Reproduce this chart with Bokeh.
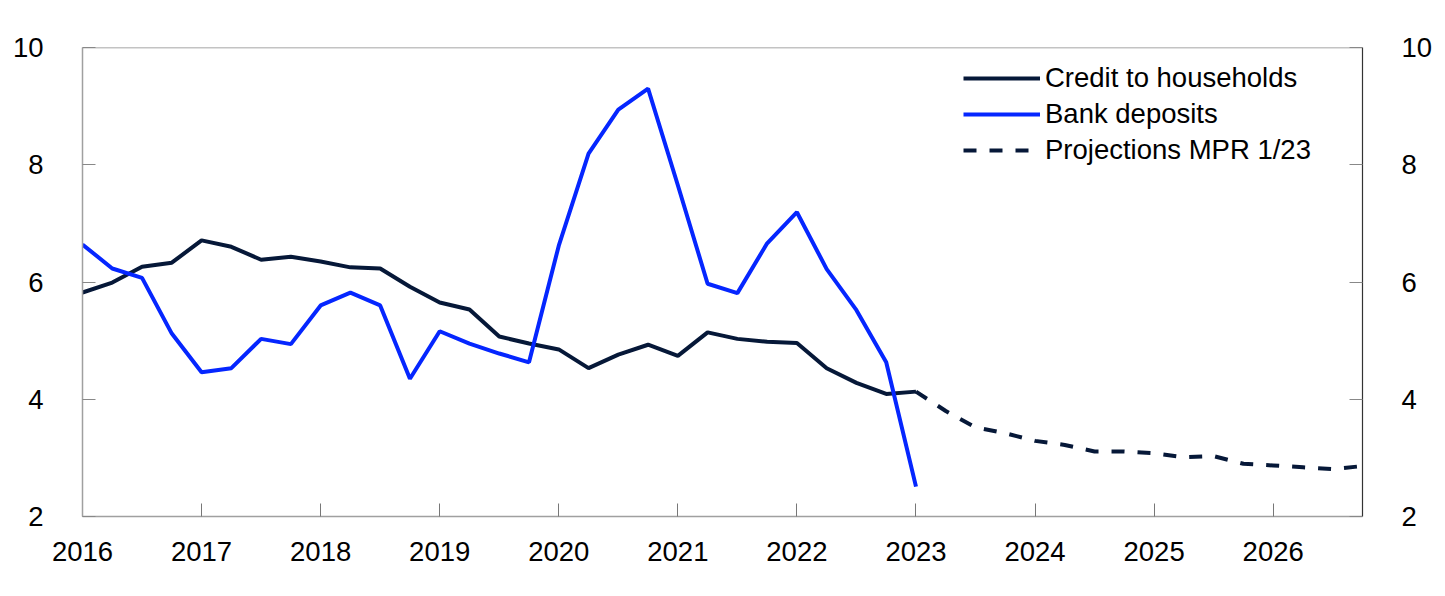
from bokeh.plotting import figure
from bokeh.models import LinearAxis, Range1d, Span, Legend, LegendItem, FixedTicker
from bokeh.embed import file_html
from bokeh.resources import INLINE

# ---- data (quarterly, 12-month growth, percent) ----
quarters = [f"{y}Q{q}" for y in range(2016, 2024) for q in range(1, 5)][:29]
credit = [5.82, 5.99, 6.26, 6.33,
          6.71, 6.60, 6.38, 6.43,
          6.35, 6.25, 6.23, 5.92,
          5.65, 5.53, 5.07, 4.95,
          4.85, 4.53, 4.76, 4.93,
          4.74, 5.14, 5.03, 4.98,
          4.96, 4.53, 4.28, 4.09,
          4.13]
deposits = [6.64, 6.23, 6.07, 5.12,
            4.46, 4.53, 5.03, 4.94,
            5.60, 5.82, 5.60, 4.35,
            5.16, 4.95, 4.78, 4.63,
            6.62, 8.19, 8.94, 9.30,
            7.65, 5.97, 5.81, 6.66,
            7.19, 6.22, 5.52, 4.63,
            2.51]
proj_quarters = [f"{y}Q{q}" for y in range(2023, 2027) for q in range(1, 5)]
projections = [4.13, 3.80, 3.52, 3.42,
               3.29, 3.22, 3.11, 3.11,
               3.08, 3.01, 3.03, 2.90,
               2.87, 2.84, 2.81, 2.86]
year_ticks = list(range(2016, 2027))
y_ticks = [2, 4, 6, 8, 10]
labels = ["Credit to households", "Bank deposits", "Projections MPR 1/23"]


def qx(q):
    return int(q[:4]) + (int(q[-1]) - 1) / 4


FONT = "Liberation Sans"
FS = "27.5px"
DARK = "#061838"
BLUE = "#0526ff"

p = figure(width=1445, height=580, output_backend="svg", toolbar_location=None,
           x_range=Range1d(2016, 2026.75), y_range=Range1d(2, 10),
           min_border_left=82, min_border_right=83, min_border_top=47,
           min_border_bottom=64, background_fill_color="white",
           border_fill_color="white")
p.outline_line_color = None
p.grid.visible = False

r1 = p.line([qx(q) for q in quarters], credit, line_color=DARK, line_width=4)
r2 = p.line([qx(q) for q in quarters], deposits, line_color=BLUE, line_width=4)
r3 = p.line([qx(q) for q in proj_quarters], projections, line_color=DARK,
            line_width=4, line_dash="13 13")

p.extra_y_ranges = {"right": Range1d(2, 10)}
p.add_layout(LinearAxis(y_range_name="right"), "right")

for ax in p.xaxis:
    ax.ticker = FixedTicker(ticks=year_ticks)
    ax.axis_line_color = "#a0a0a0"
    ax.axis_line_width = 1.5
    ax.major_tick_line_color = "#777777"
    ax.major_tick_in = 13
    ax.major_tick_out = 0
    ax.minor_tick_line_color = None
    ax.major_label_text_font = FONT
    ax.major_label_text_font_size = FS
    ax.major_label_text_color = "black"
    ax.major_label_standoff = 25

for i, ax in enumerate(p.yaxis):
    ax.ticker = FixedTicker(ticks=y_ticks)
    ax.axis_line_color = "#a0a0a0" if i == 0 else "#333333"
    ax.axis_line_width = 1.5 if i == 0 else 1.2
    ax.major_tick_line_color = "#888888"
    ax.major_tick_in = 13
    ax.major_tick_out = 0
    ax.minor_tick_line_color = None
    ax.major_label_text_font = FONT
    ax.major_label_text_font_size = FS
    ax.major_label_text_color = "black"
    ax.major_label_standoff = 39

p.add_layout(Span(location=10, dimension="width", line_color="#888888",
                  line_width=1.5))

legend = Legend(items=[LegendItem(label=labels[0], renderers=[r1]),
                       LegendItem(label=labels[1], renderers=[r2]),
                       LegendItem(label=labels[2], renderers=[r3])],
                location=(881, 350), orientation="vertical")
legend.background_fill_alpha = 0
legend.border_line_color = None
legend.padding = 0
legend.margin = 0
legend.spacing = 4
legend.glyph_width = 77
legend.glyph_height = 30
legend.label_height = 30
legend.label_standoff = 5
legend.label_text_font = FONT
legend.label_text_font_size = FS
legend.label_text_color = "black"
p.add_layout(legend, "center")

open("out.html", "w").write(file_html(p, INLINE))
